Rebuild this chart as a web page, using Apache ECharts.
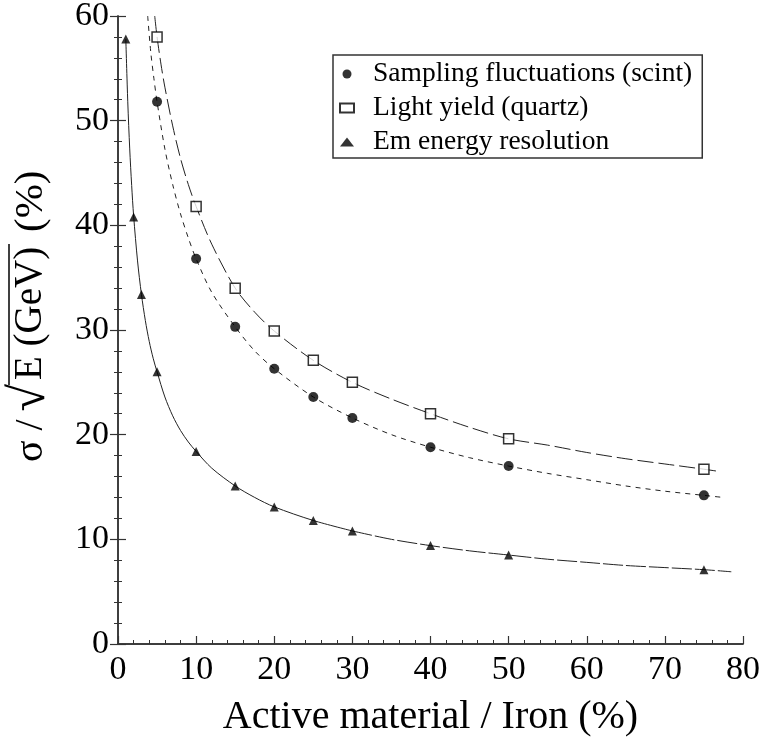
<!DOCTYPE html>
<html lang="en">
<head>
    <meta charset="UTF-8">
    <title>Resolution vs active material</title>
    <script src="https://cdn.jsdelivr.net/npm/echarts@6/dist/echarts.min.js"></script>
</head>
<body style="margin:0">
    <div id="main" style="width: 761px;height:742px;"></div>
    <script type="text/javascript">
        // measured points: x = active material / iron (%), y = sigma/sqrt(E) (%)
        var scintPts = [[5, 51.8], [10, 36.8], [15, 30.3], [20, 26.3], [25, 23.6], [30, 21.6], [40, 18.8], [50, 17.0], [75, 14.2]];
        var quartzPts = [[5, 58.0], [10, 41.8], [15, 34.0], [20, 29.9], [25, 27.1], [30, 25.0], [40, 22.0], [50, 19.6], [75, 16.7]];
        var emPts = [[1, 57.8], [2, 40.8], [3, 33.4], [5, 26.0], [10, 18.4], [15, 15.1], [20, 13.1], [25, 11.8], [30, 10.8], [40, 9.4], [50, 8.5], [75, 7.1]];

        // fitted curves
        var scintFit = [[3.8, 60], [4.2, 56.5], [4.6, 54.0], [5, 51.8], [6, 47.3], [7, 43.9], [8, 41.1], [9, 38.8], [10, 36.8],
            [12, 33.6], [15, 30.3], [17.5, 28.0], [20, 26.3], [25, 23.6], [30, 21.6], [35, 20.0], [40, 18.8], [45, 17.8],
            [50, 17.0], [55, 16.3], [60, 15.7], [65, 15.1], [70, 14.6], [75, 14.2], [77.5, 14.0]];
        var quartzFit = [[4.7, 60], [5, 58.0], [5.5, 55.4], [6, 53.2], [7, 49.5], [8, 46.4], [9, 43.9], [10, 41.8],
            [12, 38.2], [15, 34.0], [17.5, 31.7], [20, 29.9], [25, 27.1], [30, 25.0], [35, 23.4], [40, 22.0], [45, 20.7],
            [50, 19.6], [55, 19.0], [60, 18.3], [65, 17.7], [70, 17.2], [75, 16.7], [76.8, 16.5]];
        var emFitSolid = [[1, 57.8], [1.25, 51.8], [1.5, 47.3], [1.75, 43.8], [2, 40.9], [2.5, 36.6], [3, 33.4], [3.5, 30.9],
            [4, 28.9], [4.5, 27.3], [5, 26.0], [6, 23.6], [7, 21.8], [8, 20.4], [9, 19.3], [10, 18.4], [12, 16.8],
            [15, 15.1], [17.5, 14.0], [20, 13.1], [25, 11.8], [30, 10.8]];
        var emFitDashed = [[30, 10.8], [35, 10.0], [40, 9.4], [45, 8.9], [50, 8.5], [55, 8.1], [60, 7.8], [65, 7.5],
            [70, 7.3], [75, 7.1], [78.5, 6.9]];

        var names = ['Sampling fluctuations (scint)', 'Light yield (quartz)', 'Em energy resolution'];

        var serif = 'Liberation Serif';
        var myChart = echarts.init(document.getElementById('main'));

        function fitLine(data, dash) {
            return {
                type: 'line', data: data, smooth: 0.3,
                showSymbol: false, silent: true, z: 1,
                lineStyle: { color: '#222', width: 1, type: dash }
            };
        }

        function yText(str, x, size, align) {
            return {
                type: 'text', x: x, y: 0,
                style: { text: str, font: size + 'px ' + serif, fill: '#000', textAlign: align, textVerticalAlign: 'middle', align: align, verticalAlign: 'middle' }
            };
        }

        var axisCommon = {
            type: 'value',
            axisLine: { show: true, lineStyle: { color: '#333', width: 1.5 } },
            splitLine: { show: false },
            axisTick: { show: true, inside: true, length: 8, lineStyle: { color: '#333', width: 1.2 } },
            minorTick: { show: true, splitNumber: 5, length: 4, lineStyle: { color: '#333', width: 1 } }
        };

        var option = {
            animation: false,
            grid: { left: 118, top: 16, right: 18, bottom: 98, containLabel: false, outerBoundsMode: 'none' },
            xAxis: [
                Object.assign({}, axisCommon, {
                    min: 0, max: 80, interval: 10,
                    axisLabel: { fontFamily: serif, fontSize: 34, color: '#000', margin: 9 },
                    name: 'Active material / Iron (%)',
                    nameLocation: 'middle', nameGap: 53,
                    nameTextStyle: { fontFamily: serif, fontSize: 40, color: '#000' }
                }),
                Object.assign({}, axisCommon, {
                    position: 'top', min: 0, max: 80, interval: 10,
                    axisTick: { show: false }, minorTick: { show: false },
                    axisLabel: { show: false }
                })
            ],
            yAxis: [
                Object.assign({}, axisCommon, {
                    min: 0, max: 60, interval: 10,
                    axisLabel: { fontFamily: serif, fontSize: 34, color: '#000', margin: 9 }
                }),
                Object.assign({}, axisCommon, {
                    position: 'right', min: 0, max: 60, interval: 10,
                    axisLabel: { show: false }
                })
            ],
            legend: {
                orient: 'vertical', left: 333, top: 55,
                padding: [4, 10, 1, 6], itemGap: 4,
                itemWidth: 14, itemHeight: 9,
                borderColor: '#333', borderWidth: 1.5, backgroundColor: '#fff',
                textStyle: { fontFamily: serif, fontSize: 27.5, color: '#000', lineHeight: 30, padding: [0, 0, 0, 14] },
                data: [
                    { name: names[0], icon: 'circle' },
                    { name: names[1], icon: 'rect' },
                    { name: names[2], icon: 'triangle' }
                ]
            },
            // rotated y title: sigma / sqrt(E (GeV)) (%) with the root bar drawn as a line
            graphic: [{
                type: 'group', x: 31, y: 464, rotation: Math.PI / 2,
                children: [
                    yText('σ', 2, 40, 'left'),
                    yText('/', 39, 40, 'center'),
                    yText('√', 80, 50, 'right'),
                    yText('E (GeV)', 84, 39, 'left'),
                    yText('(%)', 232, 41, 'left'),
                    { type: 'line', shape: { x1: 79, y1: -22, x2: 220, y2: -22 }, style: { stroke: '#000', lineWidth: 1.5 } }
                ]
            }],
            series: [
                fitLine(scintFit, [5, 5]),
                fitLine(quartzFit, [16, 5]),
                fitLine(emFitSolid, 'solid'),
                fitLine(emFitDashed, [20, 3]),
                {
                    name: names[0], type: 'scatter', data: scintPts, symbol: 'circle', symbolSize: 10, z: 3,
                    itemStyle: { color: '#000' }
                },
                {
                    name: names[1], type: 'scatter', data: quartzPts, symbol: 'rect', symbolSize: 10, z: 3,
                    itemStyle: { color: '#fff', borderColor: '#000', borderWidth: 1.5 }
                },
                {
                    name: names[2], type: 'scatter', data: emPts, symbol: 'triangle', symbolSize: 9, z: 3,
                    itemStyle: { color: '#000' }
                }
            ]
        };

        myChart.setOption(option);
    </script>
</body>
</html>
